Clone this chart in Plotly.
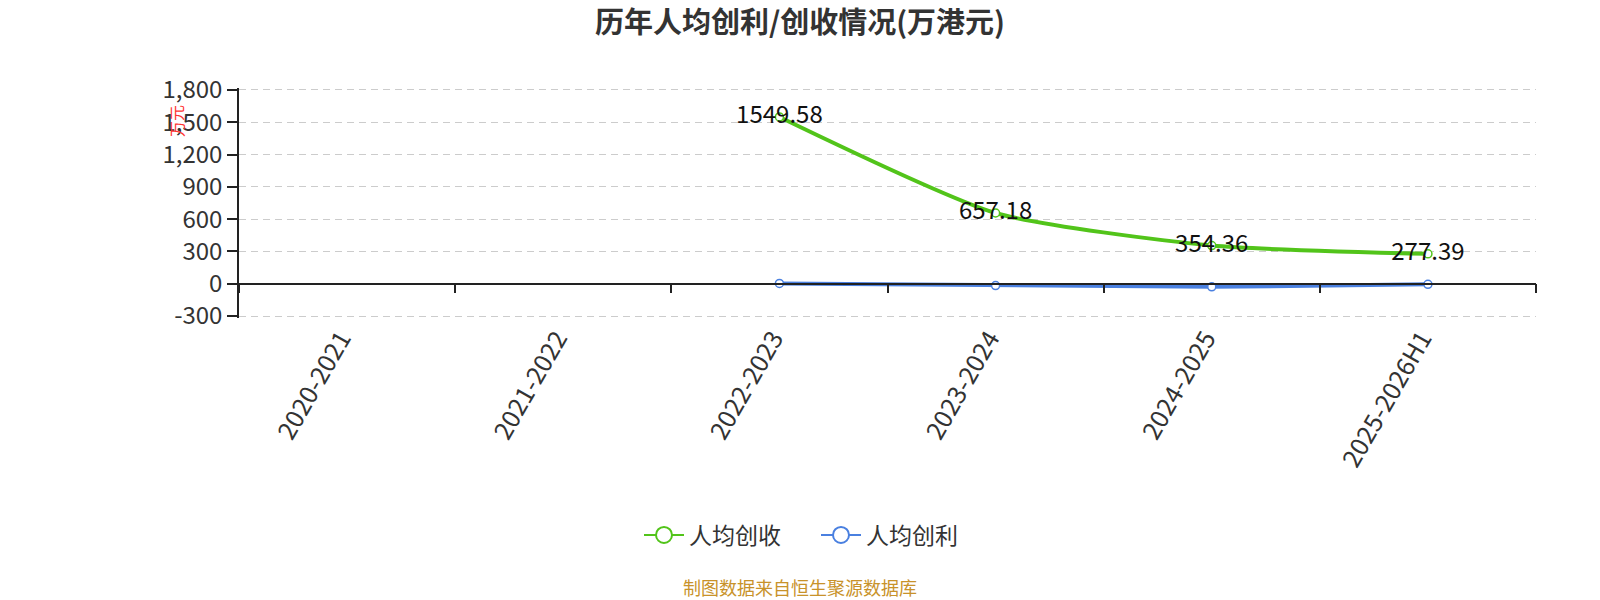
import plotly.graph_objects as go

categories = ["2020-2021", "2021-2022", "2022-2023", "2023-2024", "2024-2025", "2025-2026H1"]
revenue_per_capita = [None, None, 1549.58, 657.18, 354.36, 277.39]
profit_per_capita = [None, None, 3.0, -17.0, -29.0, -6.0]
revenue_labels = ["", "", "1549.58", "657.18", "354.36", "277.39"]
y_tickvals = [-300, 0, 300, 600, 900, 1200, 1500, 1800]
y_ticktext = ["-300", "0", "300", "600", "900", "1,200", "1,500", "1,800"]

GREEN = "#52c41a"
BLUE = "#4a80e0"
FONT = "Noto Sans CJK SC"

fig = go.Figure()

fig.add_trace(go.Scatter(
    x=categories, y=revenue_per_capita, mode="lines+markers",
    line=dict(color=GREEN, width=4, shape="spline", smoothing=0.6),
    marker=dict(symbol="circle", size=8, color="white", line=dict(color=GREEN, width=1.5)),
    connectgaps=False, showlegend=False, hoverinfo="skip",
))
fig.add_trace(go.Scatter(
    x=categories, y=profit_per_capita, mode="lines+markers",
    line=dict(color=BLUE, width=4),
    marker=dict(symbol="circle", size=8, color="white", line=dict(color=BLUE, width=1.5)),
    showlegend=False, xaxis="x2", hoverinfo="skip",
))
fig.add_trace(go.Scatter(
    x=categories, y=revenue_per_capita, mode="text", text=revenue_labels,
    textposition="middle center", textfont=dict(family=FONT, size=24, color="#111"),
    showlegend=False, hoverinfo="skip",
))

# legend entries
fig.add_trace(go.Scatter(
    x=[None], y=[None], mode="lines+markers", name="人均创收",
    line=dict(color=GREEN, width=2),
    marker=dict(symbol="circle", size=16, color="white", line=dict(color=GREEN, width=2)),
))
fig.add_trace(go.Scatter(
    x=[None], y=[None], mode="lines+markers", name="人均创利",
    line=dict(color=BLUE, width=2),
    marker=dict(symbol="circle", size=16, color="white", line=dict(color=BLUE, width=2)),
))

L, R, T, B = 239, 64, 88, 282
pw = 1600 - L - R
ph = 600 - T - B
PAD = 18.5
Y0, Y1 = -300 - PAD, 1800 + PAD
zero_frac = (0 - Y0) / (Y1 - Y0)

def py(pixel_y):
    return (600 - B - pixel_y) / ph

def px(pixel_x):
    return (pixel_x - L) / pw

fig.update_layout(
    width=1600, height=600,
    paper_bgcolor="white", plot_bgcolor="white",
    margin=dict(l=L, r=R, t=T, b=B, autoexpand=False),
    font=dict(family=FONT, color="#333"),
    title=dict(text="<b>历年人均创利/创收情况(万港元)</b>", x=0.5, xanchor="center",
               y=1 - 23 / 600, yanchor="middle", font=dict(family=FONT, size=29, color="#333")),
    xaxis=dict(
        type="category", categoryorder="array", categoryarray=categories,
        range=[-0.5, 5.5], showline=False, ticks="", showgrid=False, zeroline=False,
        tickangle=-60, tickfont=dict(family=FONT, size=25, color="#333"), automargin=False,
        ticklabelshift=-6,
    ),
    xaxis2=dict(
        type="category", categoryorder="array", categoryarray=categories,
        overlaying="x", matches="x", anchor="free", position=zero_frac,
        showline=True, linecolor="#222", linewidth=1.5,
        ticks="outside", tickson="boundaries", ticklen=9, tickcolor="#222", tickwidth=1.5,
        showticklabels=False, showgrid=False, zeroline=False,
    ),
    yaxis=dict(
        range=[Y0, Y1], tickvals=y_tickvals, ticktext=y_ticktext,
        showline=True, linecolor="#222", linewidth=1.5,
        ticks="outside", ticklen=10, tickcolor="#222", tickwidth=1.5,
        showgrid=True, gridcolor="#cccccc", griddash="7px,5px", gridwidth=1.3,
        zeroline=False, tickfont=dict(family=FONT, size=24, color="#333"), automargin=False,
    ),
    legend=dict(orientation="h", x=px(816), xanchor="center",
                y=py(535), yanchor="middle",
                font=dict(family=FONT, size=23, color="#333"), itemwidth=40,
                entrywidth=122, entrywidthmode="pixels"),
    annotations=[
        dict(text="万元", textangle=-90, x=px(176), y=py(121),
             xref="paper", yref="paper", xanchor="center", yanchor="middle",
             showarrow=False, font=dict(family=FONT, size=16, color="#ff3333")),
        dict(text="制图数据来自恒生聚源数据库", x=px(800), y=py(587),
             xref="paper", yref="paper", xanchor="center", yanchor="middle",
             showarrow=False, font=dict(family=FONT, size=18, color="#c8922a")),
    ],
)

fig.write_html("out.html", config={"displayModeBar": False},
               post_script="document.body.style.margin='0';")
